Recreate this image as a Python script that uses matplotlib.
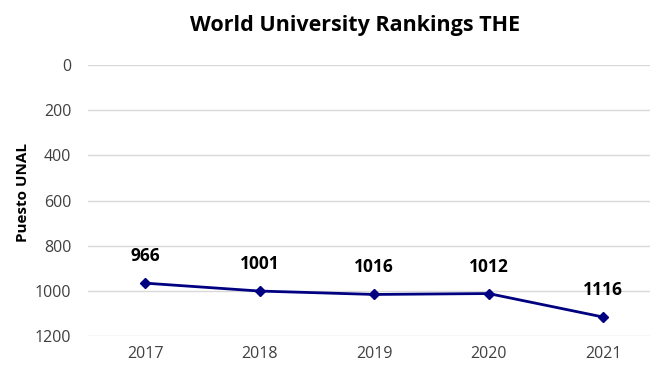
import matplotlib
matplotlib.use("Agg")
import matplotlib.pyplot as plt

years = ["2017", "2018", "2019", "2020", "2021"]
ranks = [966, 1001, 1016, 1012, 1116]
yticks = [0, 200, 400, 600, 800, 1000, 1200]

plt.rcParams['font.family'] = ['Open Sans', 'DejaVu Sans']

W, H = 651, 376
fig = plt.figure(figsize=(W / 100, H / 100), dpi=100)
ax = fig.add_axes([88 / W, (H - 336) / H, (650 - 88) / W, (336 - 65) / H])

x = list(range(len(years)))
ax.plot(x, ranks, color="#000080", linewidth=2, marker="D", markersize=5.5, zorder=3)
for xi, r in zip(x, ranks):
    ax.annotate(str(r), (xi, r), xytext=(0, 27), textcoords="offset pixels",
                ha="center", va="center", fontsize=12.5, fontweight="bold", color="#000000")

ax.set_ylim(1200, 0)
ax.set_yticks(yticks)
ax.set_xlim(-0.5, 4.41)
ax.set_xticks(x)
ax.set_xticklabels(years)
ax.grid(axis="y", color="#d9d9d9", linewidth=1)
ax.set_axisbelow(True)
for s in ax.spines.values():
    s.set_visible(False)
ax.tick_params(axis="both", length=0, labelsize=11.5, labelcolor="#404040")
ax.tick_params(axis="y", pad=12)
ax.tick_params(axis="x", pad=7)

ax.set_ylabel("Puesto UNAL", fontsize=11, fontweight="bold", color="#000000")
ax.yaxis.set_label_coords((30 - 88) / (650 - 88), (336 - 193) / (336 - 65))
fig.text(355 / W, 1 - 25 / H, "World University Rankings THE", ha="center", va="center",
         fontsize=15.5, fontweight="bold", color="#000000")

fig.savefig("out.png", dpi=100)
